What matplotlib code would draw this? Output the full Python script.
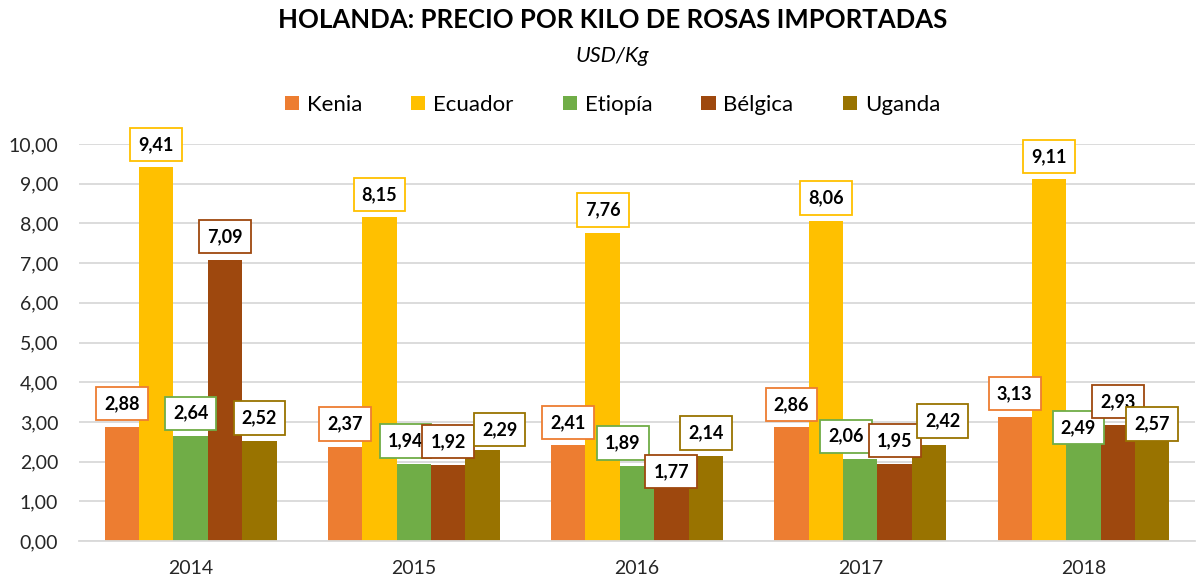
import matplotlib
matplotlib.use('Agg')
import matplotlib.pyplot as plt
import numpy as np

# --- Datos ---
anios = ['2014', '2015', '2016', '2017', '2018']
paises = ['Kenia', 'Ecuador', 'Etiopía', 'Bélgica', 'Uganda']
kenia = [2.88, 2.37, 2.41, 2.86, 3.13]
ecuador = [9.41, 8.15, 7.76, 8.06, 9.11]
etiopia = [2.64, 1.94, 1.89, 2.06, 2.49]
belgica = [7.09, 1.92, 1.77, 1.95, 2.93]
uganda = [2.52, 2.29, 2.14, 2.42, 2.57]
series = [kenia, ecuador, etiopia, belgica, uganda]

colores = ['#ED7D31', '#FFC000', '#70AD47', '#9E480E', '#997300']

# etiquetas movidas a mano en el original (pixeles: dx, dy)
dy_normal = 23
ajustes = {
    (2, 1): (-8.5, 23),
    (4, 1): (17, 20.5),
    (2, 2): (-14, 23),
    (3, 2): (0, -1),
    (2, 3): (-14, 23),
    (4, 3): (13.5, 24),
    (2, 4): (-5, 14.5),
    (4, 4): (0, 15),
}

plt.rcParams['font.family'] = ['Lato', 'DejaVu Sans']

fig = plt.figure(figsize=(12.03, 5.82), dpi=100)
ax = fig.add_axes([0.0657, 0.0704, 0.9277, 0.6822])

x = np.arange(len(anios))
ancho = 0.154

for i, (nombre, valores, color) in enumerate(zip(paises, series, colores)):
    pos = x + (i - 2) * ancho
    ax.bar(pos, valores, width=ancho, color=color, label=nombre, zorder=2)
    for j, v in enumerate(valores):
        dx, dy = ajustes.get((i, j), (0, dy_normal))
        ax.annotate(f'{v:.2f}'.replace('.', ','), xy=(pos[j], v), xytext=(dx, dy),
                    textcoords='offset pixels', ha='center', va='center',
                    fontsize=13, fontweight='bold', color='black', zorder=5,
                    bbox=dict(boxstyle='square,pad=0.45', fc='white', ec=color, lw=1.3))

ax.set_xlim(-0.5, 4.5)
ax.set_ylim(0, 10)
ax.set_yticks(np.arange(0, 11, 1))
ax.set_yticklabels([f'{v:.2f}'.replace('.', ',') for v in np.arange(0, 11, 1)])
ax.set_xticks(x)
ax.set_xticklabels(anios)
ax.tick_params(axis='both', length=0, labelsize=14, colors='#262626')
ax.tick_params(axis='y', pad=15)
ax.tick_params(axis='x', pad=14)
ax.yaxis.grid(True, color='#D9D9D9', linewidth=1.3, zorder=0)
ax.set_axisbelow(True)
for lado in ['top', 'right', 'left']:
    ax.spines[lado].set_visible(False)
ax.spines['bottom'].set_color('#D9D9D9')
ax.spines['bottom'].set_linewidth(1.3)

fig.text(0.509, 0.965, 'HOLANDA: PRECIO POR KILO DE ROSAS IMPORTADAS',
         ha='center', va='center', fontsize=18.5, fontweight='bold')
fig.text(0.509, 0.903, 'USD/Kg', ha='center', va='center', fontsize=15.5, style='italic')

fig.legend(loc='center', bbox_to_anchor=(0.509, 0.82), ncol=5, frameon=False,
           fontsize=16, handlelength=0.65, handleheight=0.65, columnspacing=2.2,
           handletextpad=0.35)

fig.savefig('out.png', dpi=100)
